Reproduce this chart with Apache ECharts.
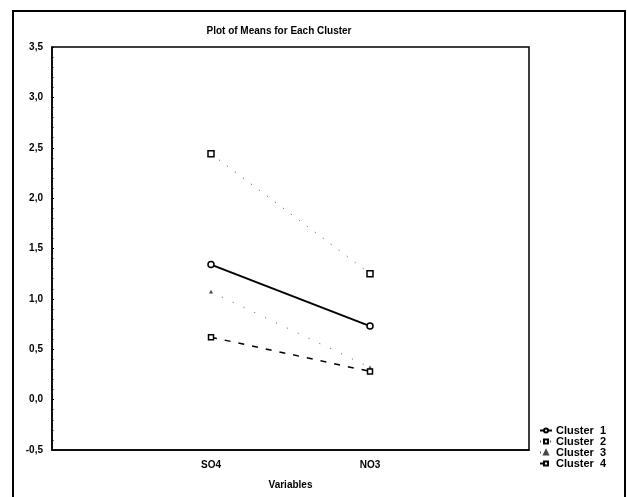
<!DOCTYPE html>
<html>
<head>
<meta charset="utf-8">
<script src="https://cdn.jsdelivr.net/npm/echarts@6/dist/echarts.min.js"></script>
<style>
  html, body {margin: 0; padding: 0; background: #fff;}
  #chart {width: 627px; height: 497px;}
</style>
</head>
<body>
<div id="chart"></div>
<script>
// categories: blank slots at both ends keep SO4 / NO3 at 1/3 and 2/3 of the width
const categories = ['', 'SO4', 'NO3', ''];
const cluster1 = [null, 1.34, 0.73, null];
const cluster2 = [null, 2.44, 1.25, null];
const cluster3 = [null, 1.07, 0.32, null];
const cluster4 = [null, 0.62, 0.28, null];
const seriesNames = ['Cluster  1', 'Cluster  2', 'Cluster  3', 'Cluster  4'];

const chart = echarts.init(document.getElementById('chart'));
const font = 'Liberation Sans';

const option = {
  backgroundColor: '#fff',
  animation: false,
  textStyle: {fontFamily: font},
  title: {
    text: 'Plot of Means for Each Cluster',
    left: 274, top: 21, textAlign: 'center',
    textStyle: {fontSize: 10, fontWeight: 'bold', color: '#000', fontFamily: font}
  },
  graphic: [{
    type: 'rect',
    shape: {x: 13, y: 11, width: 612, height: 500},
    style: {fill: 'none', stroke: '#000', lineWidth: 2}
  }],
  legend: {
    orient: 'vertical',
    left: 534, top: 420,
    itemWidth: 12, itemHeight: 5, itemGap: 0,
    data: seriesNames,
    textStyle: {fontSize: 11, fontWeight: 'bold', color: '#000', fontFamily: font, padding: [0, 0, 0, -1]}
  },
  grid: {
    left: 52, top: 47, right: 98, bottom: 47,
    show: true, borderColor: '#000', borderWidth: 1.5
  },
  xAxis: {
    type: 'category',
    data: categories,
    boundaryGap: false,
    name: 'Variables',
    nameLocation: 'middle',
    nameGap: 30,
    nameTextStyle: {fontSize: 10, fontWeight: 'bold', color: '#000'},
    axisLine: {onZero: false, lineStyle: {color: '#000', width: 1.5}},
    axisTick: {show: false},
    axisLabel: {fontSize: 10, fontWeight: 'bold', color: '#000', margin: 10},
    splitLine: {show: false}
  },
  yAxis: {
    type: 'value',
    min: -0.5, max: 3.5, interval: 0.5,
    axisLine: {show: true, lineStyle: {color: '#000', width: 1.5}},
    axisTick: {show: true, inside: true, length: 2, lineStyle: {color: '#000'}},
    minorTick: {show: true, splitNumber: 5, length: 1.5, lineStyle: {color: '#000'}},
    axisLabel: {
      fontSize: 10, fontWeight: 'bold', color: '#000', margin: 9,
      formatter: v => v.toFixed(1).replace('.', ',')
    },
    splitLine: {show: false}
  },
  series: [
    {
      name: seriesNames[0], type: 'line', data: cluster1,
      symbol: 'circle', symbolSize: 6,
      itemStyle: {color: '#fff', borderColor: '#000', borderWidth: 1.5},
      lineStyle: {color: '#000', width: 2}
    },
    {
      name: seriesNames[1], type: 'line', data: cluster2,
      symbol: 'rect', symbolSize: 6,
      itemStyle: {color: '#fff', borderColor: '#000', borderWidth: 1.5},
      lineStyle: {color: '#444', width: 1, type: [1, 9]}
    },
    {
      name: seriesNames[2], type: 'line', data: cluster3,
      symbol: 'triangle', symbolSize: 3,
      itemStyle: {color: '#444', borderColor: '#444', borderWidth: 0.5},
      lineStyle: {color: '#555', width: 1, type: [1, 11]}
    },
    {
      name: seriesNames[3], type: 'line', data: cluster4,
      symbol: 'rect', symbolSize: 5,
      itemStyle: {color: '#fff', borderColor: '#000', borderWidth: 1.5},
      lineStyle: {color: '#000', width: 1.5, type: [6, 8]}
    }
  ]
};

chart.setOption(option);
</script>
</body>
</html>
